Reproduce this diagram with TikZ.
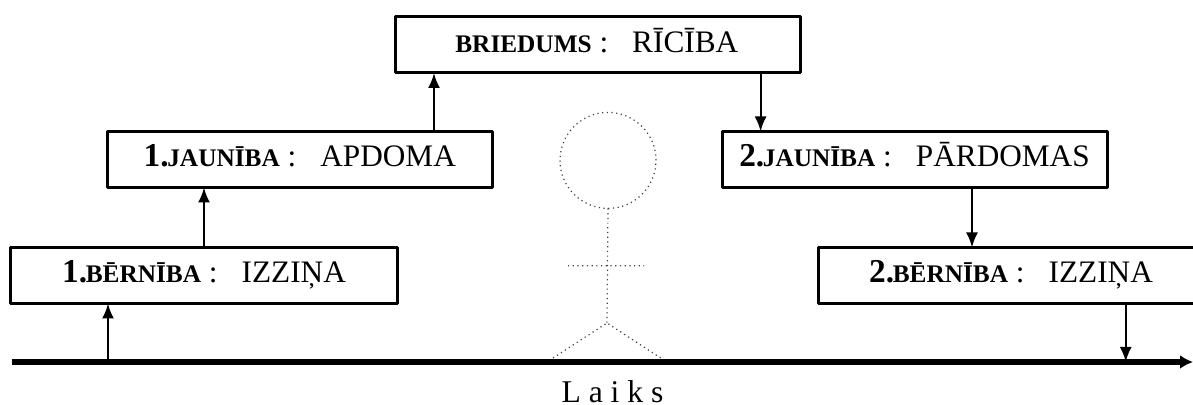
\documentclass[tikz,border=0pt]{standalone}
\usepackage{fontspec}
\usetikzlibrary{arrows.meta}
\setmainfont{Liberation Serif}
\tikzset{
  stagebox/.style={draw, line width=0.3mm, fill=white, minimum height=0.56cm, inner sep=0pt, outer sep=0pt, text height=0.17cm, text depth=0.02cm, font=\fontsize{8.9}{10}\selectfont},
  flowarrow/.style={-{Latex[length=1.5mm,width=1.2mm]}, line width=0.22mm},
  figureline/.style={densely dotted, line width=0.12mm, black!75}
}
\newcommand{\stagename}[2]{\textbf{\fontsize{9.5}{10}\selectfont #1\kern-0.4pt\fontsize{7.2}{8}\selectfont #2} :\hspace{0.24cm}}
\begin{document}
\begin{tikzpicture}[line join=round, >=stealth]
  \useasboundingbox (0,0) rectangle (11.93,4.05);
  % figure
  \node[figureline, draw, circle, minimum size=0.96cm, inner sep=0pt, outer sep=0pt] (head) at (6.08,2.446) {};
  \coordinate (hip) at (6.07,0.82);
  \coordinate (armL) at (5.68,1.393);
  \coordinate (armR) at (6.44,1.393);
  \coordinate (footL) at (5.53,0.47);
  \coordinate (footR) at (6.607,0.47);
  \draw[figureline] (head.south) -- (hip) (armL) -- (armR) (footL) -- (hip) -- (footR);
  % boxes
  \node[stagebox, minimum width=3.86cm] (berniba1) at (2.04,1.295) {\stagename{1.}{BĒRNĪBA}IZZIŅA};
  \node[stagebox, minimum width=3.855cm] (jauniba1) at (2.998,2.455) {\stagename{1.}{JAUNĪBA}APDOMA};
  \node[stagebox, minimum width=4.05cm] (briedums) at (5.975,3.6) {\stagename{}{BRIEDUMS}RĪCĪBA};
  \node[stagebox, minimum width=3.85cm] (jauniba2) at (9.145,2.455) {\stagename{2.}{JAUNĪBA}PĀRDOMAS};
  \node[stagebox, minimum width=3.86cm] (berniba2) at (10.11,1.295) {\stagename{2.}{BĒRNĪBA}IZZIŅA};
  % time axis
  \coordinate (start) at (0.115,0.43);
  \coordinate (end) at (11.93,0.43);
  \draw[-{Latex[length=1.3mm,width=1.4mm]}, line width=0.55mm] (start) -- (end);
  \node[anchor=base, font=\fontsize{9}{10}\selectfont] (laiks) at (6.125,0.025) {L a i k s};
  % arrows
  \coordinate (up1) at (1.08,0.43);
  \coordinate (down2) at (11.257,0.43);
  \draw[flowarrow] (up1) -- (up1 |- berniba1.south);
  \draw[flowarrow] (berniba1.north -| 2.04,0) -- (2.04,0 |- jauniba1.south);
  \draw[flowarrow] (jauniba1.north -| 4.34,0) -- (4.34,0 |- briedums.south);
  \draw[flowarrow] (briedums.south -| 7.606,0) -- (7.606,0 |- jauniba2.north);
  \draw[flowarrow] (jauniba2.south -| 9.72,0) -- (9.72,0 |- berniba2.north);
  \draw[flowarrow] (down2 |- berniba2.south) -- (down2);
\end{tikzpicture}
\end{document}
